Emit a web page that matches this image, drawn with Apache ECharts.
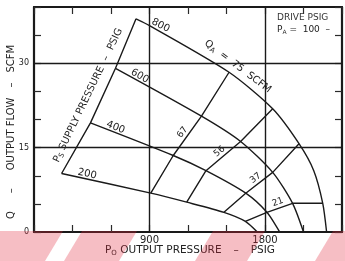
<!DOCTYPE html>
<html>
<head>
<meta charset="utf-8">
<script src="https://cdn.jsdelivr.net/npm/echarts@6/dist/echarts.min.js"></script>
<style>
html, body { margin: 0; padding: 0; background: #fff; }
#chart { width: 345px; height: 261px; }
</style>
</head>
<body>
<div id="chart"></div>
<script>
// axis values
const xLabels = [900, 1800];
const yLabels = [0, 15, 30];
const gridX = [900, 1800];
const gridY = [15, 30];

// supply pressure lines, [output pressure psig, output flow scfm]
const supplyNames = ['200', '400', '600', '800'];
const supply200 = [[215, 10.4], [910, 6.9], [1190, 5.3], [1480, 3.5], [1647, 1.9], [1740, 0]];
const supply400 = [[440, 19.4], [1085, 13.6], [1340, 10.9], [1650, 6.9], [1815, 3.5], [1915, 0]];
const supply600 = [[635, 29.1], [1305, 20.6], [1610, 16.1], [1860, 10.6], [2015, 5.1], [2100, 0]];
const supply800 = [[795, 37.9], [900, 36.7], [1520, 28.4], [1860, 21.9], [2065, 15.7], [2180, 10.9], [2250, 5.1], [2280, 0]];

// drive air consumption lines (Q_A), crossing the supply lines 200 -> 800
const qaNames = ['67', '56', '37', '21'];
const qa67 = [[910, 6.9], [1085, 13.6], [1305, 20.6], [1520, 28.4]];
const qa56 = [[1190, 5.3], [1340, 10.9], [1610, 16.1], [1860, 21.9]];
const qa37 = [[1480, 3.5], [1650, 6.9], [1860, 10.6], [2065, 15.7]];
const qa21 = [[1647, 1.9], [1815, 3.5], [2015, 5.1], [2250, 5.1]];

const supplyLines = [supply200, supply400, supply600, supply800];
const qaLines = [qa67, qa56, qa37, qa21];

const FONT = "'DejaVu Sans', 'Liberation Sans', sans-serif";
const INK = '#1a1a1a';

function axisX(pos, labels) {
  return {
    type: 'value', min: 0, max: 2400, interval: 300, position: pos,
    axisLine: { show: true, onZero: false, lineStyle: { color: INK, width: 2.2 } },
    axisTick: { show: true, inside: true, length: 7, lineStyle: { color: '#2a2a2a', width: 1.2 } },
    axisLabel: {
      show: labels, margin: 3, color: '#222', fontSize: 10, fontFamily: FONT,
      formatter: v => xLabels.includes(v) ? String(v) : ''
    },
    splitLine: { show: false }
  };
}
function axisY(pos, labels) {
  return {
    type: 'value', min: 0, max: 40, interval: 5, position: pos,
    axisLine: { show: true, onZero: false, lineStyle: { color: INK, width: 2.2 } },
    axisTick: { show: true, inside: true, length: 7, lineStyle: { color: '#2a2a2a', width: 1.2 } },
    axisLabel: {
      show: labels, margin: 5, color: '#222', fontSize: 8, fontFamily: FONT,
      formatter: v => yLabels.includes(v) ? String(v) : ''
    },
    splitLine: { show: false }
  };
}

function curve(data, smooth) {
  return {
    type: 'line', data: data, symbol: 'none', smooth: smooth,
    silent: true, z: 3,
    lineStyle: { color: INK, width: 1.4 }
  };
}

const series = [];
// diagonal where each supply line starts, carries the grid lines
series.push(Object.assign(curve(supplyLines.map(s => s[0]), false), {
  markLine: {
    silent: true, symbol: 'none', animation: false,
    label: { show: false },
    lineStyle: { color: INK, width: 1.4, type: 'solid' },
    data: gridX.map(v => ({ xAxis: v })).concat(gridY.map(v => ({ yAxis: v })))
  }
}));
supplyLines.forEach(s => series.push(curve(s, 0.25)));
qaLines.forEach(q => series.push(curve(q, false)));

const chart = echarts.init(document.getElementById('chart'));
chart.setOption({
  animation: false,
  grid: { left: 34, right: -5, top: 7, bottom: 29 },
  xAxis: [axisX('bottom', true), axisX('top', false)],
  yAxis: [axisY('left', true), axisY('right', false)],
  series: series
});

// ---- labels placed along the lines ----
const px = p => chart.convertToPixel({ seriesIndex: 0 }, p);
function along(a, b, dist, off) {
  const dx = b[0] - a[0], dy = b[1] - a[1], len = Math.hypot(dx, dy);
  const ux = dx / len, uy = dy / len;
  let nx = uy, ny = -ux;
  if (ny > 0) { nx = -nx; ny = -ny; }
  return { x: a[0] + ux * dist + nx * off, y: a[1] + uy * dist + ny * off, rot: -Math.atan2(dy, dx) };
}
function label(pos, text, size, rich) {
  return {
    type: 'text', x: pos.x, y: pos.y, rotation: pos.rot, silent: true, z: 20,
    style: {
      text: text, fill: '#222', fontSize: size, fontFamily: FONT,
      align: 'center', verticalAlign: 'middle', rich: rich
    }
  };
}
const sub = { fontSize: 7, fontFamily: FONT, fill: '#222', verticalAlign: 'bottom' };
const txt = (size) => ({ fontSize: size, fontFamily: FONT, fill: '#222', lineHeight: size + 2 });
const gap = (w) => ({ width: w, fontSize: 10 });

const graphics = [];

supplyLines.forEach((s, i) => {
  const pos = along(px(s[0]), px(s[1]), 25, 5);
  graphics.push(label(pos, supplyNames[i], 10));
});

qaLines.forEach((q, i) => {
  const a = px(q[1]), b = px(q[2]);
  const pos = along(a, b, Math.hypot(b[0] - a[0], b[1] - a[1]) / 2, 6);
  graphics.push(label(pos, qaNames[i], 9));
});

// Q_A = 75 SCFM along the 800 line
{
  const p = along(px(supply800[2]), px(supply800[3]), 3, 10);
  const r = along(px(supply800[1]), px(supply800[3]), 0, 0);
  p.rot = (p.rot + r.rot) / 2;
  graphics.push(label(p, '{t|Q}{s|A}{t|  =  75  SCFM}', 10, { t: txt(10), s: sub }));
}

// supply pressure caption along the diagonal
{
  const a = px(supply200[0]), b = px(supply800[0]);
  const pos = along(a, b, Math.hypot(b[0] - a[0], b[1] - a[1]) / 2 - 4, 10);
  graphics.push(label(pos, '{t|P}{s|S}{t| SUPPLY PRESSURE}{g| }{t|–}{g| }{t|PSIG}', 10,
    { t: txt(10), s: sub, g: gap(7) }));
}

// axis names
graphics.push(label({ x: 11, y: 132, rot: Math.PI / 2 },
  '{t|Q}{a| }{t|–}{a| }{t|OUTPUT FLOW}{b| }{t|–}{b| }{t|SCFM}', 10,
  { t: txt(10), a: gap(18), b: gap(10) }));
graphics.push(label({ x: 190, y: 250, rot: 0 },
  '{t|P}{s|O}{t| OUTPUT PRESSURE}{g| }{t|–}{g| }{t|PSIG}', 10,
  { t: txt(10.5), s: sub, g: gap(12) }));

// drive note, top right
graphics.push({
  type: 'text', x: 277, y: 18, silent: true, z: 20,
  style: { text: 'DRIVE PSIG', fill: '#333', fontSize: 9, fontFamily: FONT, align: 'left', verticalAlign: 'middle' }
});
graphics.push({
  type: 'text', x: 277, y: 30, silent: true, z: 20,
  style: {
    text: '{t|P}{s|A}{t| =  100  –}', fill: '#333', fontSize: 9, fontFamily: FONT, align: 'left', verticalAlign: 'middle',
    rich: { t: txt(9), s: { fontSize: 6, fontFamily: FONT, fill: '#333', verticalAlign: 'bottom' } }
  }
});

// red stripes across the bottom edge of the scan
const stripes = [
  [[0, 231], [63, 231], [45, 261], [0, 261]],
  [[82, 231], [137, 231], [119, 261], [64, 261]],
  [[213, 231], [265, 231], [247, 261], [195, 261]],
  [[333, 231], [345, 231], [345, 261], [315, 261]]
];
stripes.forEach(pts => graphics.push({
  type: 'polygon', silent: true, z: 100,
  shape: { points: pts },
  style: { fill: 'rgba(224, 40, 60, 0.3)' }
}));

chart.setOption({ graphic: graphics });
</script>
</body>
</html>
